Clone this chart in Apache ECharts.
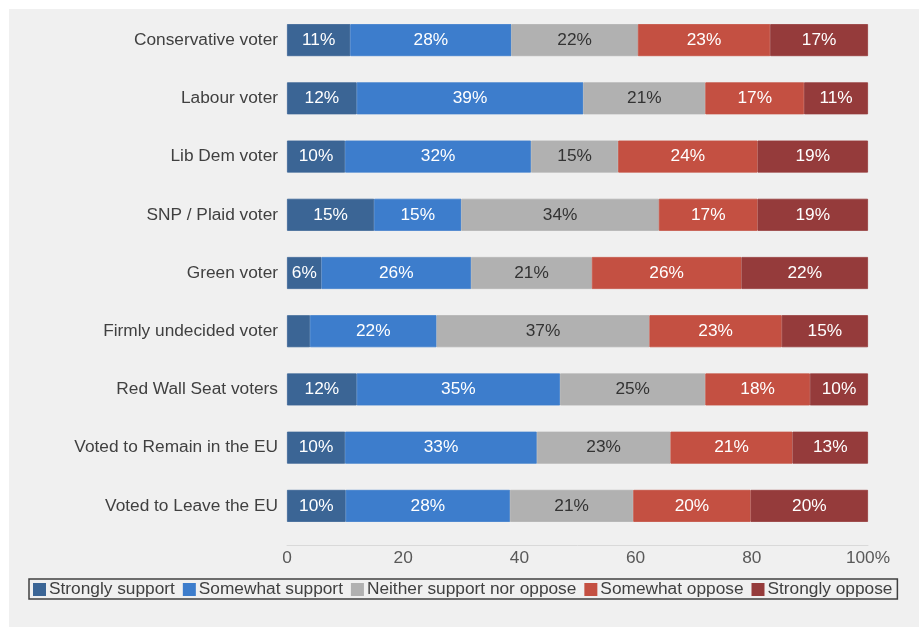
<!DOCTYPE html>
<html>
<head>
<meta charset="utf-8">
<script src="https://cdn.jsdelivr.net/npm/echarts@6/dist/echarts.min.js"></script>
<style>
  html, body { margin: 0; padding: 0; background: #fff; }
  #frame { position: absolute; left: 9px; top: 9px; width: 910px; height: 618px; background: #f0f0f0; }
  #chart { position: absolute; left: 0; top: 0; width: 919px; height: 627px; }
</style>
</head>
<body>
<div id="frame"></div>
<div id="chart"></div>
<script>
// rows, top to bottom
var groups = [
  'Conservative voter',
  'Labour voter',
  'Lib Dem voter',
  'SNP / Plaid voter',
  'Green voter',
  'Firmly undecided voter',
  'Red Wall Seat voters',
  'Voted to Remain in the EU',
  'Voted to Leave the EU'
];

var stronglySupport  = [11, 12, 10, 15,  6,  4, 12, 10, 10];
var somewhatSupport  = [28, 39, 32, 15, 26, 22, 35, 33, 28];
var neither          = [22, 21, 15, 34, 21, 37, 25, 23, 21];
var somewhatOppose   = [23, 17, 24, 17, 26, 23, 18, 21, 20];
var stronglyOppose   = [17, 11, 19, 19, 22, 15, 10, 13, 20];

var seriesNames = ['Strongly support', 'Somewhat support', 'Neither support nor oppose', 'Somewhat oppose', 'Strongly oppose'];
var seriesColors = ['#3b6595', '#3d7dcc', '#b1b1b1', '#c45042', '#953b3b'];
var labelColors = ['#fff', '#fff', '#333', '#fff', '#fff'];

var raw = [stronglySupport, somewhatSupport, neither, somewhatOppose, stronglyOppose];

// 100% stacked: each row is scaled to its own total
var totals = groups.map(function (g, i) {
  var s = 0;
  raw.forEach(function (arr) { s += arr[i]; });
  return s;
});

var font = '"Liberation Sans", Arial, sans-serif';
var fs = 17.3;

var series = raw.map(function (arr, k) {
  return {
    name: seriesNames[k],
    type: 'bar',
    stack: 'all',
    barWidth: 32,
    itemStyle: { color: seriesColors[k], borderColor: seriesColors[k], borderWidth: 0.8 },
    label: {
      show: true,
      position: 'inside',
      color: labelColors[k],
      fontFamily: font,
      fontSize: fs,
      formatter: function (p) {
        var v = arr[p.dataIndex];
        return v < 5 ? '' : v + '%';
      }
    },
    emphasis: { disabled: true },
    data: arr.map(function (v, i) { return v / totals[i] * 100; })
  };
});

var myChart = echarts.init(document.getElementById('chart'));

myChart.setOption({
  backgroundColor: 'transparent',
  animation: false,
  grid: { left: 287, right: 51, top: 11, bottom: 92 },
  xAxis: {
    type: 'value',
    min: 0,
    max: 100,
    interval: 20,
    offset: 10,
    axisLine: { show: true, lineStyle: { color: '#d9d9d9', width: 1 } },
    axisTick: { show: false },
    splitLine: { show: false },
    axisLabel: {
      margin: 5,
      color: '#595959',
      fontFamily: font,
      fontSize: fs,
      formatter: function (v) { return v === 100 ? '100%' : v; }
    }
  },
  yAxis: {
    type: 'category',
    inverse: true,
    data: groups,
    axisLine: { show: false },
    axisTick: { show: false },
    axisLabel: { margin: 9, color: '#404040', fontFamily: font, fontSize: fs }
  },
  legend: {
    left: 29,
    top: 579,
    padding: [2, 5, 1, 4],
    itemGap: 8,
    itemWidth: 11,
    itemHeight: 11,
    icon: 'rect',
    borderColor: '#404040',
    borderWidth: 1.5,
    textStyle: { color: '#404040', fontFamily: font, fontSize: fs, padding: [0, 0, 0, -1] },
    data: seriesNames
  },
  series: series
});
</script>
</body>
</html>
